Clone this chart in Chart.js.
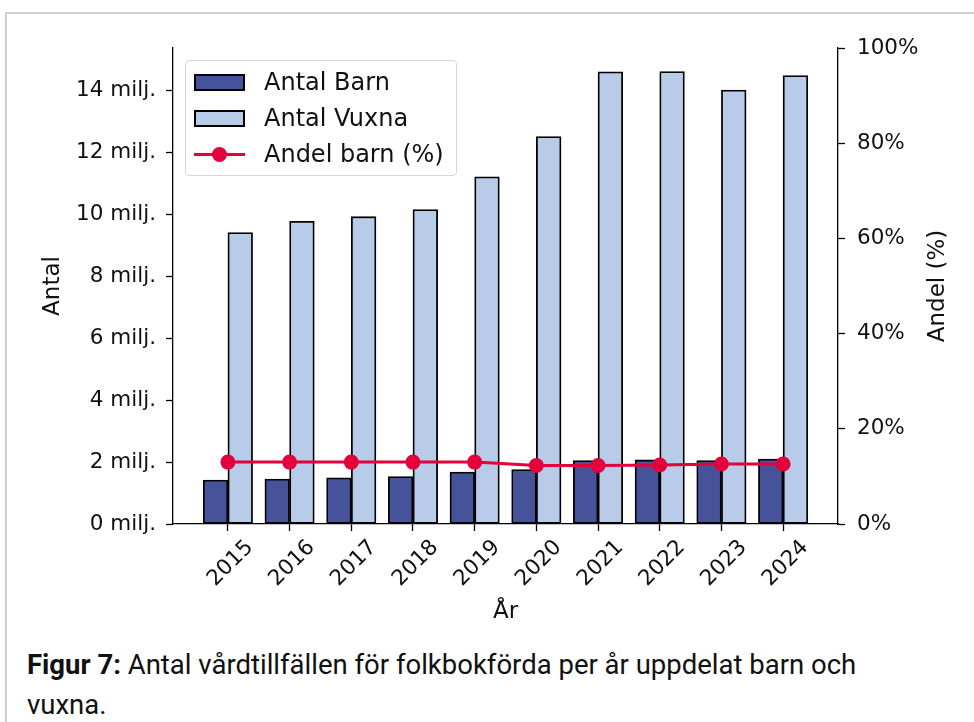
<!DOCTYPE html>
<html>
<head>
<meta charset="utf-8">
<script src="https://cdn.jsdelivr.net/npm/chart.js@4/dist/chart.umd.min.js"></script>
<style>
  html, body { margin: 0; padding: 0; background: #fff; }
  body { width: 974px; height: 722px; position: relative; overflow: hidden; }
  .frame { position: absolute; left: 5px; top: 12px; width: 990px; height: 730px;
           border-left: 2px solid #cfcfcf; border-top: 2px solid #cfcfcf; }
  #chart { position: absolute; left: 0; top: 0; }
  .legend { position: absolute; left: 185px; top: 60px; width: 270px; height: 114px;
            border: 1px solid #d6d6d6; border-radius: 4px; background: rgba(255,255,255,0.85);
            font-family: "DejaVu Sans", sans-serif; font-size: 24px; color: #111; }
  .lg-row { position: absolute; left: 8px; height: 36px; display: flex; align-items: center; }
  .lg-sw { width: 51px; height: 17px; border: 2px solid #000; box-sizing: border-box; margin-right: 19px; }
  .lg-line { width: 51px; height: 17px; margin-right: 19px; position: relative; }
  .lg-line::before { content: ""; position: absolute; left: 0; right: 0; top: 7px; height: 3px; background: #e4003b; }
  .lg-line::after { content: ""; position: absolute; left: 18px; top: 1px; width: 15px; height: 15px; border-radius: 50%; background: #e4003b; }
  .caption { position: absolute; left: 27px; top: 645px; width: 880px;
             font-family: Roboto, "Noto Sans", sans-serif; font-size: 27.5px; line-height: 40px; color: #111; }
  .caption b { font-weight: 700; }
</style>
</head>
<body>
<div class="frame"></div>
<canvas id="chart" width="974" height="640"></canvas>
<div class="legend">
  <div class="lg-row" style="top:3px"><div class="lg-sw" style="background:#46539b"></div>Antal Barn</div>
  <div class="lg-row" style="top:39px"><div class="lg-sw" style="background:#b8cbe8"></div>Antal Vuxna</div>
  <div class="lg-row" style="top:75px"><div class="lg-line"></div>Andel barn (%)</div>
</div>
<div class="caption"><b>Figur 7:</b> Antal vårdtillfällen för folkbokförda per år uppdelat barn och vuxna.</div>

<script>
// data (antal in miljoner, andel in procent)
const years = [2015, 2016, 2017, 2018, 2019, 2020, 2021, 2022, 2023, 2024];
const antalBarn = [1.42, 1.45, 1.49, 1.53, 1.68, 1.76, 2.05, 2.07, 2.05, 2.10];
const antalVuxna = [9.42, 9.78, 9.93, 10.16, 11.22, 12.52, 14.61, 14.62, 14.02, 14.49];
const andelBarn = [13.0, 13.0, 13.0, 13.0, 13.0, 12.3, 12.3, 12.4, 12.6, 12.6];
const antalTicks = [0, 2, 4, 6, 8, 10, 12, 14];
const andelTicks = [0, 20, 40, 60, 80, 100];

const FONT = { family: 'DejaVu Sans', size: 21.5 };
const BAR_SHIFT = 0.2;

// axis titles drawn by hand so the right one reads bottom-to-top like the original
const axisTitles = {
  id: 'axisTitles',
  afterDraw(chart) {
    const { ctx, chartArea: a } = chart;
    ctx.save();
    ctx.fillStyle = '#111';
    ctx.font = '23px "DejaVu Sans"';
    ctx.textAlign = 'center';
    ctx.textBaseline = 'middle';
    const midY = (a.top + a.bottom) / 2;
    [[53, 'Antal'], [938, 'Andel (%)']].forEach(([x, t]) => {
      ctx.save(); ctx.translate(x, midY); ctx.rotate(-Math.PI / 2); ctx.fillText(t, 0, 0); ctx.restore();
    });
    ctx.fillText('År', (a.left + a.right) / 2, 612);
    ctx.restore();
  }
};

new Chart(document.getElementById('chart'), {
  data: {
    datasets: [
      { type: 'line', label: 'Andel barn (%)', yAxisID: 'y1', order: 0,
        data: andelBarn.map((v, i) => ({ x: years[i], y: v })),
        borderColor: '#e4003b', backgroundColor: '#e4003b', borderWidth: 3,
        pointRadius: 7.5, pointHoverRadius: 7.5, pointBackgroundColor: '#e4003b', pointBorderWidth: 0, tension: 0 },
      { type: 'bar', label: 'Antal Barn', yAxisID: 'y', order: 1,
        data: antalBarn.map((v, i) => ({ x: years[i] - BAR_SHIFT, y: v })),
        backgroundColor: '#46539b', borderColor: '#000', borderWidth: 1.8, borderSkipped: false,
        grouped: false, barPercentage: 1, categoryPercentage: 1 },
      { type: 'bar', label: 'Antal Vuxna', yAxisID: 'y', order: 2,
        data: antalVuxna.map((v, i) => ({ x: years[i] + BAR_SHIFT, y: v })),
        backgroundColor: '#b8cbe8', borderColor: '#000', borderWidth: 1.8, borderSkipped: false,
        grouped: false, barPercentage: 1, categoryPercentage: 1 }
    ]
  },
  options: {
    responsive: false,
    animation: false,
    layout: { padding: { top: 48, left: 0, right: 0, bottom: 0 } },
    plugins: { legend: { display: false }, tooltip: { enabled: false } },
    scales: {
      x: {
        type: 'linear', min: 2014.11, max: 2024.89, offset: false,
        afterBuildTicks: s => { s.ticks = years.map(v => ({ value: v })); },
        afterFit: s => { s.height = 116; },
        grid: { offset: false, drawOnChartArea: false, tickLength: 7, tickColor: '#000', tickWidth: 1.3 },
        border: { color: '#000', width: 1.3 },
        ticks: { color: '#111', font: FONT, minRotation: 45, maxRotation: 45, padding: 4, labelOffset: 22,
                 callback: v => String(v) }
      },
      y: {
        position: 'left', min: 0, max: 15.38,
        afterBuildTicks: s => { s.ticks = antalTicks.map(v => ({ value: v })); },
        afterFit: s => { s.width = 173; },
        grid: { drawOnChartArea: false, tickLength: 7, tickColor: '#000', tickWidth: 1.3 },
        border: { color: '#000', width: 1.3 },
        ticks: { color: '#111', font: FONT, padding: 10, callback: v => v + ' milj.' }
      },
      y1: {
        position: 'right', min: 0, max: 100,
        afterBuildTicks: s => { s.ticks = andelTicks.map(v => ({ value: v })); },
        afterFit: s => { s.width = 136; },
        grid: { drawOnChartArea: false, tickLength: 7, tickColor: '#000', tickWidth: 1.3 },
        border: { color: '#000', width: 1.3 },
        ticks: { color: '#111', font: FONT, padding: 12, callback: v => v + '%' }
      }
    }
  },
  plugins: [axisTitles]
});
</script>
</body>
</html>
